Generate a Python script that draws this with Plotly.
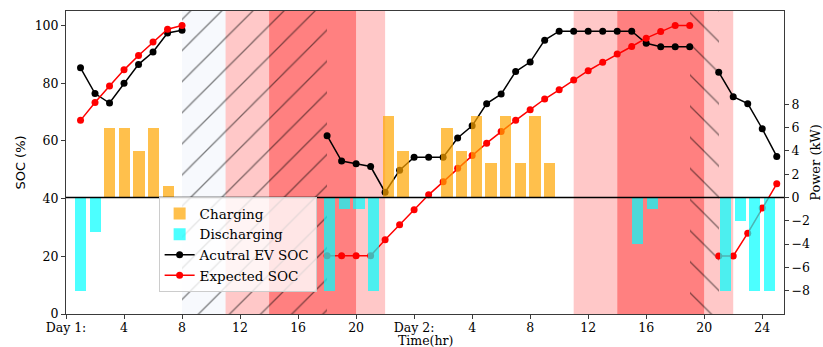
import numpy as np
import plotly.graph_objects as go

# ---- data -----------------------------------------------------------------
# hourly SOC samples over two days (hour 1 .. 49), None = EV not connected
soc_hours = list(range(1, 50))
actual_soc = [
    85.3, 76.4, 73.1, 80.0, 86.5, 90.8, 97.4, 98.3,
    None, None, None, None, None, None, None, None, None,
    61.8, 53.0, 52.1, 51.1, 42.2, 49.8, 54.3, 54.3, 54.3,
    61.0, 65.2, 72.9, 76.2, 84.0, 87.3, 94.9, 98.0, 98.0, 98.0,
    98.0, 98.0, 98.0, 93.8, 92.6, 92.6, 92.6,
    None,
    83.8, 75.3, 72.9, 64.2, 54.6,
]
expected_soc = [
    67.1, 73.3, 79.0, 84.6, 89.6, 94.3, 98.7, 100.0,
    None, None, None, None, None, None, None, None, None,
    20.2, 20.2, 20.2, 20.2, 25.7, 30.9, 36.1, 41.3, 45.8,
    50.5, 54.9, 59.2, 63.2, 67.1, 70.8, 74.5, 77.7, 81.1, 84.3,
    87.2, 90.1, 92.7, 95.6, 97.9, 100.0, 100.0,
    None,
    20.1, 20.1, 28.0, 36.7, 45.1,
]

# hourly EV power (kW): positive = charging, negative = discharging
power_kw = [
    -8, -3, 6, 6, 4, 6, 1, 0,
    0, 0, 0, 0, 0, 0, 0, 0, 0,
    -8, -1, -1, -8, 7, 4, 0, 0,
    6, 4, 7, 3, 7, 3, 7, 3,
    0, 0, 0, 0, 0,
    -4, -1,
    0, 0, 0, 0,
    -8, -2, -8, -8,
]
power_hours = np.linspace(1, 48.5, len(power_kw))

# tariff windows (hours from the start of day 1)
shoulder_windows = [(11, 14), (20, 22), (35, 38), (44, 46)]
peak_windows = [(14, 20), (38, 44)]
away_window = (8, 18)
hatched_windows = [(8, 18, "/"), (43, 45, "\\")]

x_ticks = list(range(0, 49, 4))
x_tick_labels = ["Day 1:", "4", "8", "12", "16", "20",
                 "Day 2:", "4", "8", "12", "16", "20", "24"]
soc_ticks = [0, 20, 40, 60, 80, 100]
power_ticks = [-8, -6, -4, -2, 0, 2, 4, 6, 8]

# ---- styling --------------------------------------------------------------
SERIF = "DejaVu Serif"
SANS = "DejaVu Sans"
AXIS_COLOR = "#3a3a3a"
ORANGE = "rgba(255,165,0,0.7)"
CYAN = "rgba(0,255,255,0.7)"
SHOULDER = "#ffc8c8"
PEAK = "#ff8080"
AWAY = "#f7f9fd"

charging = [p if p > 0 else None for p in power_kw]
discharging = [p if p < 0 else None for p in power_kw]

fig = go.Figure()

# hatched availability windows, drawn as transparent patterned bars
for a, b, shape in hatched_windows:
    fig.add_trace(go.Bar(
        x=[(a + b) / 2], y=[105], base=0, width=b - a,
        yaxis="y", showlegend=False, hoverinfo="skip",
        marker=dict(color="rgba(0,0,0,0)", line=dict(width=0),
                    pattern=dict(shape=shape, size=22, solidity=0.06,
                                 fgcolor="#000000", bgcolor="rgba(0,0,0,0)",
                                 fillmode="overlay")),
    ))

fig.add_trace(go.Bar(
    x=power_hours, y=charging, width=0.78, yaxis="y2",
    name="Charging", marker=dict(color=ORANGE, line=dict(width=0)),
    legendrank=1,
))
fig.add_trace(go.Bar(
    x=power_hours, y=discharging, width=0.78, yaxis="y2",
    name="Discharging", marker=dict(color=CYAN, line=dict(width=0)),
    legendrank=2,
))
fig.add_trace(go.Scatter(
    x=soc_hours, y=actual_soc, mode="lines+markers", yaxis="y",
    name="Acutral EV SOC", line=dict(color="black", width=1.5),
    marker=dict(color="black", size=7), connectgaps=False,
    legendrank=3,
))
fig.add_trace(go.Scatter(
    x=soc_hours, y=expected_soc, mode="lines+markers", yaxis="y",
    name="Expected SOC", line=dict(color="red", width=1.5),
    marker=dict(color="red", size=7), connectgaps=False,
    legendrank=4,
))

shapes = [dict(type="rect", xref="x", yref="y domain",
               x0=away_window[0], x1=away_window[1], y0=0, y1=1,
               fillcolor=AWAY, line=dict(width=0), layer="below")]
for a, b in shoulder_windows:
    shapes.append(dict(type="rect", xref="x", yref="y domain", x0=a, x1=b,
                       y0=0, y1=1, fillcolor=SHOULDER, line=dict(width=0),
                       layer="below"))
for a, b in peak_windows:
    shapes.append(dict(type="rect", xref="x", yref="y domain", x0=a, x1=b,
                       y0=0, y1=1, fillcolor=PEAK, line=dict(width=0),
                       layer="below"))
# zero-power reference line
shapes.append(dict(type="line", xref="x domain", yref="y2", x0=0, x1=1,
                   y0=0, y1=0, line=dict(color="black", width=1.5),
                   layer="above"))

tick_font = dict(family=SERIF, size=12.5, color="black")

fig.update_layout(
    width=823, height=347,
    margin=dict(l=66, r=39, t=11, b=33),
    paper_bgcolor="white", plot_bgcolor="white",
    barmode="overlay", bargap=0,
    shapes=shapes,
    showlegend=True,
    legend=dict(x=0.129, y=0.385, xanchor="left", yanchor="top",
                bgcolor="rgba(255,255,255,0.8)", bordercolor="#cccccc",
                borderwidth=1, font=dict(family=SERIF, size=13.5, color="black"),
                tracegroupgap=0, itemwidth=30),
    xaxis=dict(range=[0, 49.5], tickmode="array", tickvals=x_ticks,
               ticktext=x_tick_labels, ticks="outside", ticklen=4,
               tickcolor=AXIS_COLOR, showline=True, linecolor=AXIS_COLOR,
               linewidth=1, mirror=True, showgrid=False, zeroline=False,
               tickfont=tick_font, automargin=False, ticklabelstandoff=-2),
    yaxis=dict(range=[0, 105], tickmode="array", tickvals=soc_ticks,
               ticks="outside", ticklen=4, tickcolor=AXIS_COLOR,
               showline=True, linecolor=AXIS_COLOR, linewidth=1,
               showgrid=False, zeroline=False, tickfont=tick_font,
               automargin=False,
               title=dict(text="SOC (%)", font=dict(family=SANS, size=13,
                                                    color="black"),
                          standoff=6)),
    yaxis2=dict(range=[-10, 16], overlaying="y", side="right",
                tickmode="array", tickvals=power_ticks,
                ticktext=[str(t).replace("-", "\u2212") for t in power_ticks],
                ticks="outside", ticklen=4, tickcolor=AXIS_COLOR,
                showline=True, linecolor=AXIS_COLOR, linewidth=1,
                showgrid=False, zeroline=False, tickfont=tick_font,
                automargin=False,
                title=dict(text="Power (kW)", font=dict(family=SERIF, size=13,
                                                        color="black"),
                           standoff=2)),
    annotations=[dict(text="Time(hr)", xref="paper", yref="paper",
                      x=0.5, y=0, xanchor="center", yanchor="middle",
                      yshift=-26.5, showarrow=False, borderpad=0,
                      font=dict(family=SERIF, size=12.5, color="black"))],
)

fig.write_html("out.html")
